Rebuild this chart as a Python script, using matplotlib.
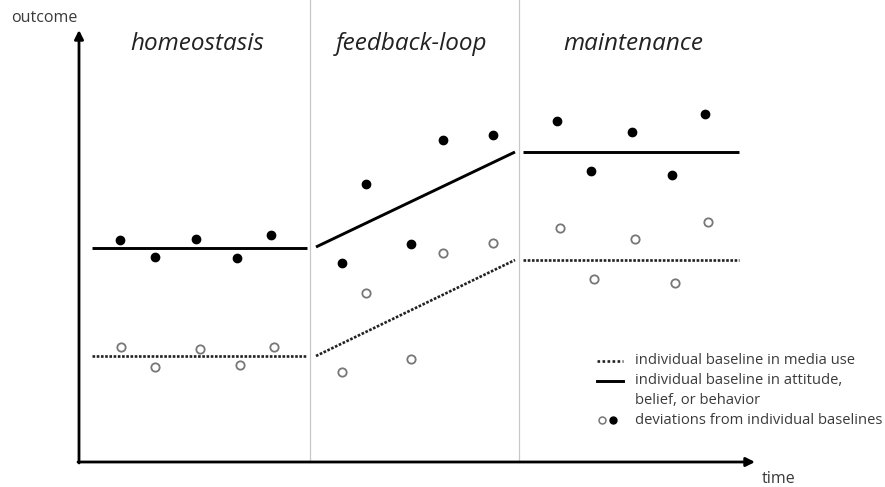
import matplotlib
matplotlib.use("Agg")
import matplotlib.pyplot as plt

plt.rcParams['font.family'] = ['Open Sans', 'DejaVu Sans']

# ---- data (time, outcome in arbitrary units) ----
phases = ["homeostasis", "feedback-loop", "maintenance"]
phase_bounds = [23.1, 44.0]

# individual baseline in attitude, belief, or behavior (solid)
att_seg_x = [[1.3, 22.8], [23.7, 43.6], [44.4, 66.0]]
att_seg_y = [[21.4, 21.4], [21.5, 31.0], [31.0, 31.0]]
# individual baseline in media use (dotted)
med_seg_x = [[1.3, 22.8], [23.7, 43.6], [44.4, 66.0]]
med_seg_y = [[10.6, 10.6], [10.6, 20.2], [20.2, 20.2]]

# deviations: filled (attitude) and open (media use)
filled_t = [4.1, 7.6, 11.7, 15.8, 19.2,
            26.3, 28.7, 33.2, 36.4, 41.4,
            47.8, 51.2, 55.3, 59.3, 62.6]
filled_y = [22.2, 20.5, 22.3, 20.4, 22.7,
            19.9, 27.8, 21.8, 32.2, 32.7,
            34.1, 29.1, 33.0, 28.7, 34.8]
open_t = [4.2, 7.6, 12.1, 16.1, 19.5,
          26.3, 28.7, 33.2, 36.4, 41.4,
          48.1, 51.5, 55.6, 59.6, 62.9]
open_y = [11.5, 9.5, 11.3, 9.7, 11.5,
          9.0, 16.9, 10.3, 20.9, 21.9,
          23.4, 18.3, 22.3, 17.9, 24.0]

legend_labels = ["individual baseline in media use",
                 "individual baseline in attitude,",
                 "belief, or behavior",
                 "deviations from individual baselines"]

fig = plt.figure(figsize=(8.85, 4.87), dpi=100)
ax = fig.add_axes([0, 0, 1, 1])
ax.set_xlim(-7.9, 80.6)
ax.set_ylim(-2.5, 46.2)
ax.axis('off')

txt = '#3a3a3a'
dot_style = (0, (1, 0.6))

# separators
for b in phase_bounds:
    ax.plot([b, b], [0, 46.2], color='#c8c8c8', lw=0.9, zorder=1)

# axes with arrows
ax.annotate('', xy=(0, 43.2), xytext=(0, -0.1),
            arrowprops=dict(arrowstyle='-|>', lw=2.0, color='black',
                            mutation_scale=13, shrinkA=0, shrinkB=0))
ax.annotate('', xy=(67.6, 0), xytext=(-0.1, 0),
            arrowprops=dict(arrowstyle='-|>', lw=2.0, color='black',
                            mutation_scale=13, shrinkA=0, shrinkB=0))
ax.text(-0.2, 44.4, "outcome", ha='right', va='center', fontsize=11.5, color=txt)
ax.text(68.3, -1.7, "time", ha='left', va='center', fontsize=11.5, color=txt)

# phase titles
centers = [11.8, 33.3, 55.4]
for c, p in zip(centers, phases):
    ax.text(c, 41.8, p, ha='center', va='center', fontsize=17.5,
            style='italic', color='#222222')

# baselines
for xs, ys in zip(att_seg_x, att_seg_y):
    ax.plot(xs, ys, color='black', lw=2.1, solid_capstyle='butt', zorder=3)
for xs, ys in zip(med_seg_x, med_seg_y):
    ax.plot(xs, ys, color='#222222', lw=1.9, linestyle=dot_style, zorder=3)

# deviations
ax.plot(filled_t, filled_y, 'o', ms=6, color='black', zorder=4)
ax.plot(open_t, open_y, 'o', ms=6, mfc='white', mec='#777777', mew=1.3, zorder=4)

# legend (manual)
lx0, lx1, tx = 51.8, 54.4, 55.6
ax.plot([lx0, lx1], [10.1, 10.1], color='#222222', lw=1.9, linestyle=(0, (1, 0.9)))
ax.plot([lx0, lx1], [8.1, 8.1], color='black', lw=2.1)
ax.plot([52.3], [4.2], 'o', ms=5, mfc='white', mec='#777777', mew=1.1)
ax.plot([53.4], [4.2], 'o', ms=5, color='black')
fs = 10.6
ax.text(tx, 10.1, legend_labels[0], va='center', ha='left', fontsize=fs, color=txt)
ax.text(tx, 8.1, legend_labels[1], va='center', ha='left', fontsize=fs, color=txt)
ax.text(tx, 6.1, legend_labels[2], va='center', ha='left', fontsize=fs, color=txt)
ax.text(tx, 4.2, legend_labels[3], va='center', ha='left', fontsize=fs, color=txt)

fig.savefig("out.png", dpi=100)
